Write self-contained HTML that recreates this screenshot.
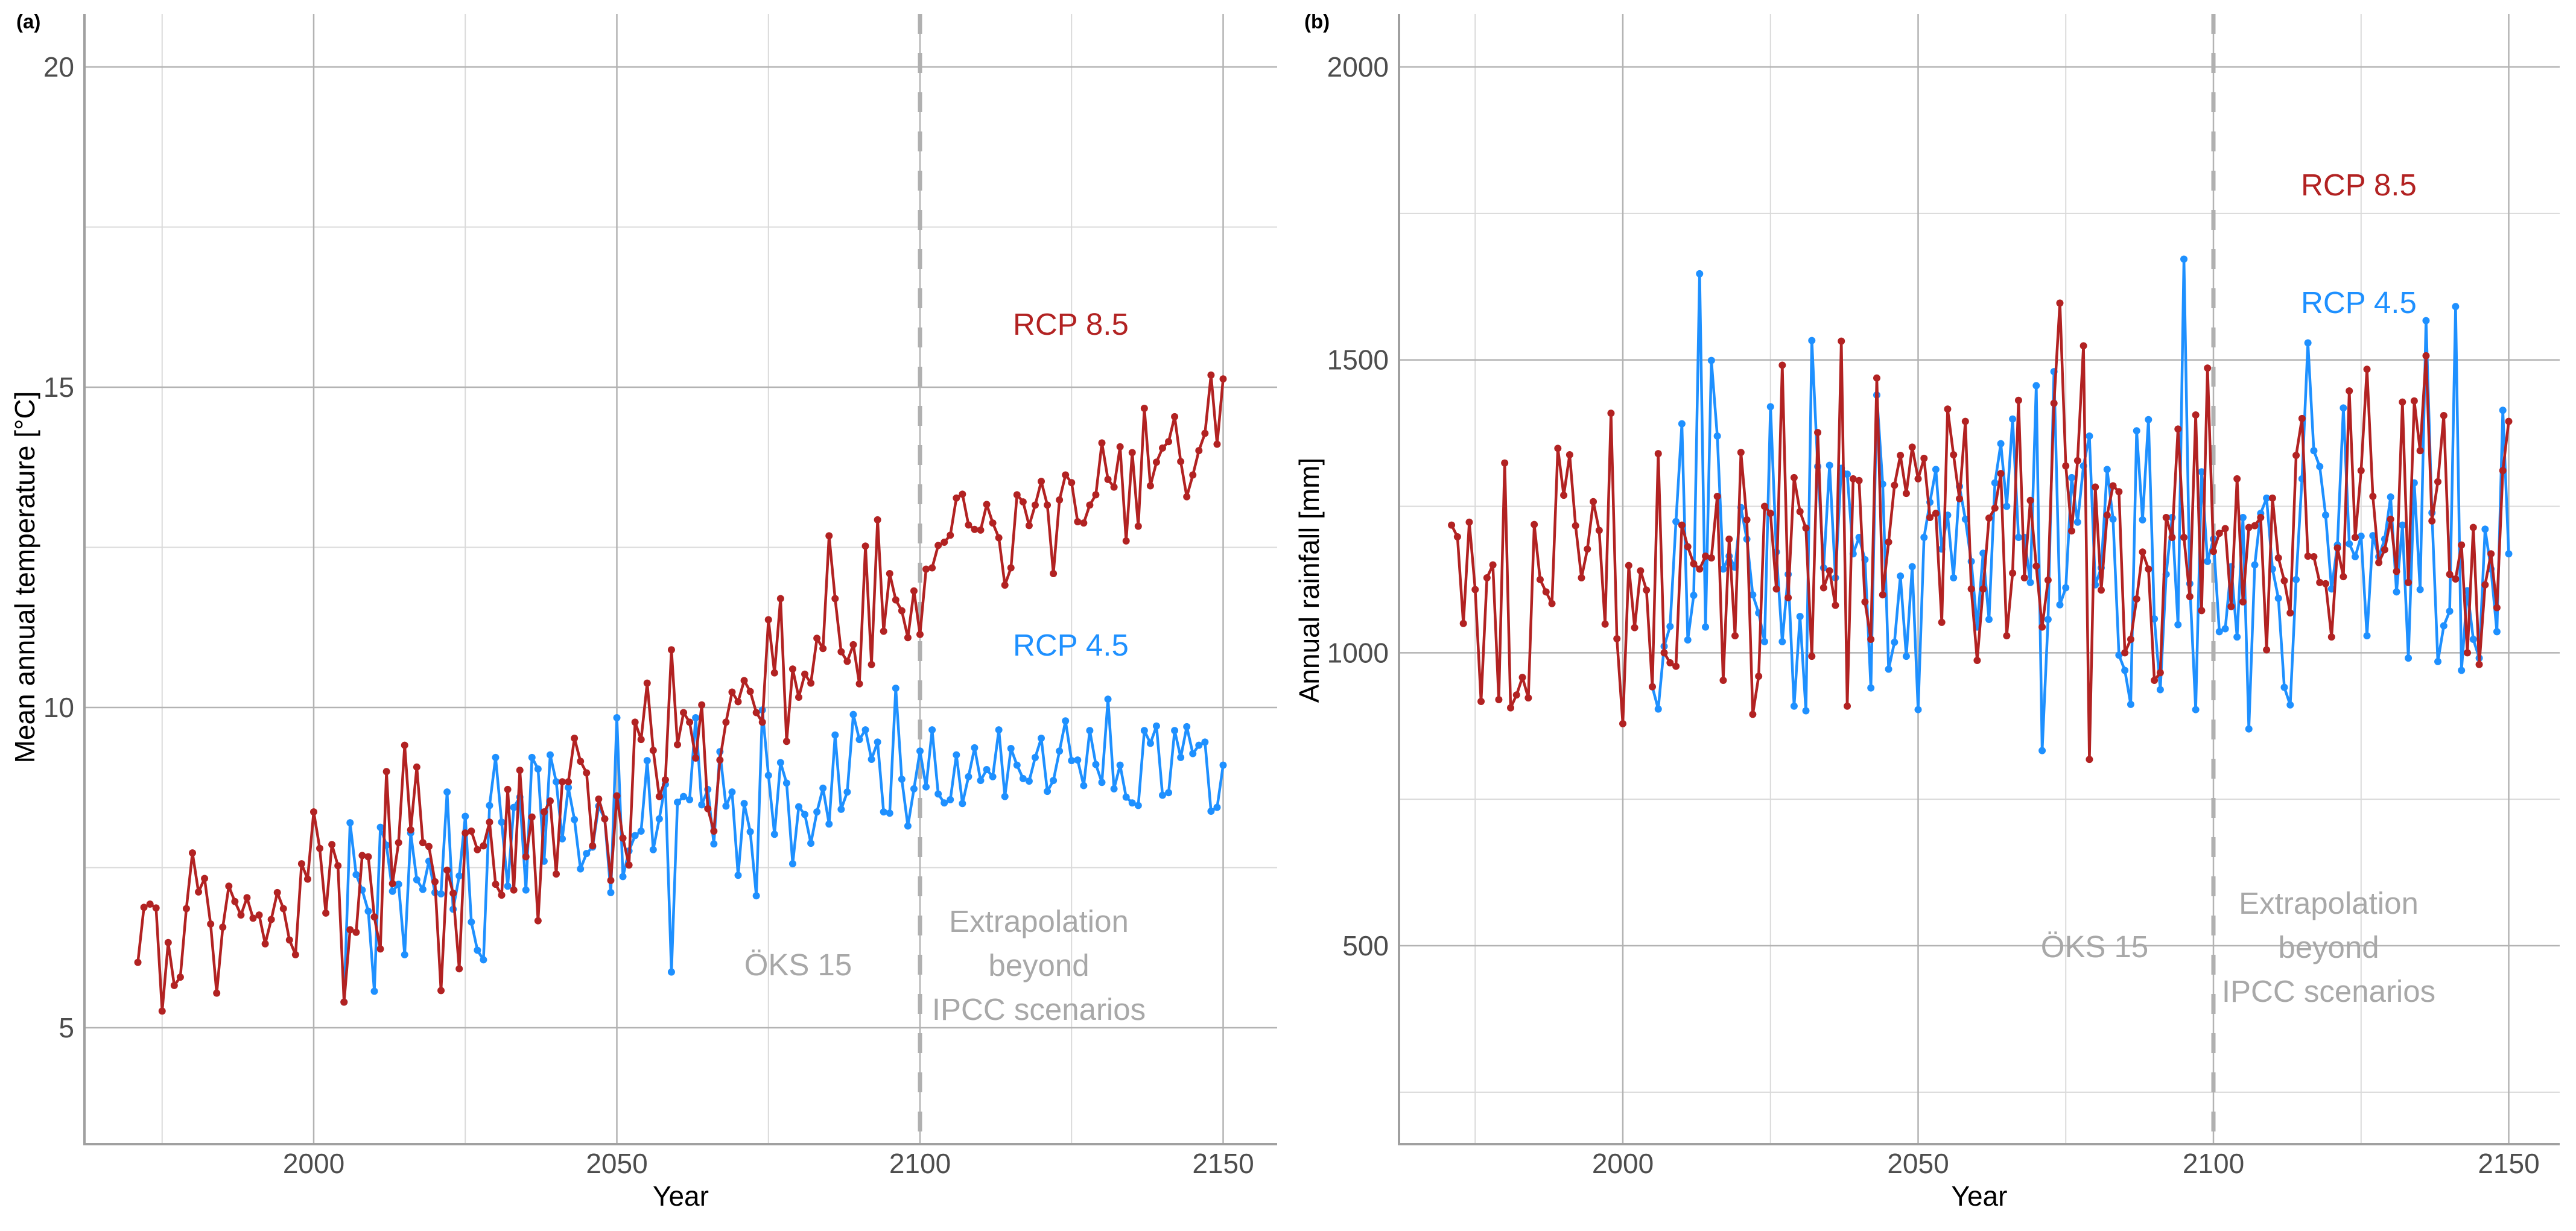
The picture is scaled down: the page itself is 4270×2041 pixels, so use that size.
<!DOCTYPE html>
<html><head><meta charset="utf-8"><style>
html,body{margin:0;padding:0;background:#fff;}
svg{display:block;font-family:"Liberation Sans",Arial,sans-serif;}
</style></head><body>
<svg id="fig" width="4270" height="2041" viewBox="0 0 4270 2041" xmlns="http://www.w3.org/2000/svg">
<g id="pa"></g>
<g id="pb"></g>
</svg>
<script>
const yearsStart = 1971;
const blueStart = 2005;
const tempRcp85 = [6.02,6.88,6.93,6.87,5.26,6.33,5.66,5.79,6.86,7.73,
7.12,7.33,6.62,5.54,6.57,7.21,6.97,6.76,7.03,6.71,
6.76,6.31,6.69,7.11,6.86,6.37,6.14,7.56,7.32,8.37,
7.80,6.79,7.86,7.53,5.40,6.53,6.49,7.69,7.67,6.73,
6.23,9.00,7.25,7.89,9.41,8.09,9.07,7.89,7.83,7.28,
5.58,7.46,7.10,5.92,8.04,8.07,7.78,7.84,8.21,7.24,
7.07,8.72,7.15,9.02,7.67,8.29,6.67,8.37,8.54,7.40,
8.84,8.84,9.52,9.16,8.98,7.84,8.57,8.26,7.30,8.62,
7.96,7.54,9.77,9.50,10.38,9.33,8.61,8.87,10.90,9.42,
9.92,9.77,9.21,10.04,8.42,8.07,9.18,9.77,10.24,10.09,
10.42,10.25,9.92,9.77,11.37,10.54,11.70,9.47,10.60,10.16,
10.52,10.38,11.08,10.92,12.68,11.70,10.87,10.72,10.98,10.37,
12.52,10.67,12.93,11.19,12.09,11.68,11.51,11.09,11.82,11.14,
12.16,12.18,12.53,12.58,12.69,13.27,13.33,12.85,12.78,12.77,
13.17,12.88,12.65,11.91,12.18,13.32,13.21,12.84,13.16,13.53,
13.16,12.09,13.24,13.63,13.51,12.90,12.88,13.16,13.32,14.13,
13.56,13.44,14.07,12.60,13.98,12.83,14.67,13.46,13.83,14.05,
14.15,14.54,13.84,13.29,13.63,14.01,14.28,15.19,14.11,15.13];
const tempRcp45 = [5.40,
8.20,7.39,7.15,6.82,5.57,
8.13,7.85,7.13,7.24,6.14,8.04,7.31,7.16,7.60,7.11,
7.09,8.68,6.85,7.37,8.30,6.65,6.21,6.06,8.47,9.22,
8.21,7.21,8.44,8.60,7.15,9.22,9.04,7.60,9.26,8.84,
7.95,8.75,8.25,7.48,7.72,7.82,8.46,8.26,7.11,9.84,
7.36,7.76,8.00,8.07,9.17,7.78,8.26,8.80,5.87,8.52,
8.61,8.56,9.84,8.48,8.72,7.87,9.31,8.46,8.68,7.38,
8.50,8.06,7.06,9.96,8.94,8.02,9.14,8.82,7.56,8.45,
8.33,7.88,8.37,8.74,8.18,9.57,8.41,8.68,9.89,9.50,
9.65,9.19,9.46,8.37,8.35,10.30,8.88,8.15,8.73,9.32,
8.76,9.65,8.65,8.51,8.56,9.26,8.50,8.92,9.37,8.86,
9.03,8.92,9.65,8.61,9.36,9.10,8.89,8.85,9.22,9.52,
8.69,8.86,9.32,9.79,9.17,9.18,8.78,9.64,9.11,8.83,
10.13,8.73,9.10,8.60,8.51,8.47,9.64,9.44,9.71,8.63,
8.67,9.64,9.22,9.70,9.28,9.41,9.46,8.38,8.44,9.10];
const rainRcp85 = [1218,1198,1050,1223,1108,917,1128,1150,920,1324,
906,928,958,923,1219,1125,1104,1084,1349,1269,
1338,1217,1128,1177,1258,1209,1049,1409,1024,879,
1149,1043,1140,1107,942,1340,1000,983,977,1218,
1181,1152,1143,1165,1162,1267,953,1194,1029,1342,
1227,895,960,1250,1238,1109,1491,1094,1299,1241,
1213,994,1376,1111,1140,1081,1532,909,1297,1294,
1087,1023,1469,1099,1189,1286,1337,1272,1351,1297,
1332,1231,1238,1052,1416,1338,1263,1395,1109,987,
1109,1230,1247,1306,1029,1136,1431,1128,1260,1148,
1044,1124,1426,1597,1319,1208,1328,1524,818,1283,
1107,1235,1285,1275,1000,1023,1092,1172,1143,953,
966,1231,1197,1382,1197,1096,1406,1072,1486,1173,
1204,1212,1079,1297,1087,1214,1217,1231,1005,1264,
1162,1123,1068,1337,1400,1165,1164,1120,1118,1027,
1179,1130,1447,1197,1311,1484,1267,1154,1176,1228,
1139,1428,1120,1430,1345,1507,1225,1292,1405,1134,
1126,1184,1000,1214,980,1116,1169,1077,1311,1395];
const rainRcp45 = [942,
904,1011,1045,1224,1391,
1022,1098,1647,1044,1499,1370,1143,1165,1146,1248,
1194,1099,1068,1019,1420,1172,1019,1134,909,1062,
901,1533,1318,1145,1320,1128,1315,1305,1169,1197,
1159,940,1440,1288,972,1018,1131,994,1147,903,
1197,1257,1313,1177,1235,1128,1284,1228,1156,1044,
1170,1057,1290,1357,1250,1399,1197,1197,1120,1456,
833,1057,1480,1082,1111,1299,1223,1319,1370,1116,
1145,1313,1228,996,970,912,1379,1227,1398,1058,
937,1134,1231,1048,1672,1118,903,1309,1156,1194,
1036,1041,1147,1027,1231,870,1150,1238,1264,1143,
1093,941,911,1125,1297,1529,1345,1318,1235,1109,
1184,1418,1186,1164,1199,1029,1200,1164,1194,1266,
1104,1218,991,1290,1108,1567,1239,985,1046,1071,
1591,970,1106,1023,991,1211,1143,1036,1414,1169];
const xTicks = [2000,2050,2100,2150];
const xMinor = [1975,2025,2075,2125];
const tempTicks = [5,10,15,20];
const tempMinor = [7.5,12.5,17.5];
const rainTicks = [500,1000,1500,2000];
const rainMinor = [250,750,1250,1750];

const NS = "http://www.w3.org/2000/svg";
function mk(parent, tag, attrs, text){
  const e = document.createElementNS(NS, tag);
  for (const k in attrs) e.setAttribute(k, attrs[k]);
  if (text !== undefined) e.textContent = text;
  parent.appendChild(e);
  return e;
}
function panel(g, cfg){
  const X = y => cfg.x0 + (y - 2000) * cfg.xs;
  const Y = v => cfg.y0 - (v - cfg.v0) * cfg.ys;
  cfg.minor.forEach(v => {
    const l = mk(g,'line',{x1:cfg.left,x2:cfg.right,y1:Y(v),y2:Y(v),stroke:'#dadada','stroke-width':2});
    
    
  });
  xMinor.forEach(v => {
    const l = mk(g,'line',{x1:X(v),x2:X(v),y1:cfg.top,y2:cfg.bottom,stroke:'#dadada','stroke-width':2});
    
    
  });
  cfg.ticks.forEach(v => {
    const l = mk(g,'line',{x1:cfg.left,x2:cfg.right,y1:Y(v),y2:Y(v),stroke:'#b3b3b3','stroke-width':2.5});
    
    
    const t = mk(g,'text',{x:cfg.left-17,y:Y(v)+16,'text-anchor':'end','font-size':46,fill:'#4d4d4d'}, String(v));
    
    
  });
  xTicks.forEach(v => {
    const l = mk(g,'line',{x1:X(v),x2:X(v),y1:cfg.top,y2:cfg.bottom,stroke:'#b3b3b3','stroke-width':2.5});
    
    
    const t = mk(g,'text',{x:X(v),y:cfg.bottom+48,'text-anchor':'middle','font-size':46,fill:'#4d4d4d'}, String(v));
    
    
  });
  const d = mk(g,'line',{x1:X(2100),x2:X(2100),y1:cfg.top,y2:cfg.bottom,stroke:'#b0b0b0','stroke-width':7,'stroke-dasharray':'33 32'});
  
  
  const ax = mk(g,'path',{d:`M${cfg.left} ${cfg.top} V${cfg.bottom} H${cfg.right}`,stroke:'#a0a0a0','stroke-width':4,fill:'none'});
  
  
  function series(vals, start, color, name){
    const sg = mk(g,'g',{});
    
    
    const pts = vals.map((v,i)=>`${X(start+i).toFixed(1)},${Y(v).toFixed(1)}`).join(' ');
    const pl = mk(sg,'polyline',{points:pts,fill:'none',stroke:color,'stroke-width':4.5,'stroke-linejoin':'round'});
    
    
    vals.forEach((v,i)=>{
      const c = mk(sg,'circle',{cx:X(start+i),cy:Y(v),r:6,fill:color});
      
      
    });
  }
  series(cfg.blue, blueStart, '#1e90ff', 'rcp45-series');
  series(cfg.red, yearsStart, '#b22222', 'rcp85-series');
  const pl = mk(g,'text',{x:cfg.tagX,y:47,'font-size':33,'font-weight':'bold',fill:'#000'}, cfg.tag);
  
  
  const yt = mk(g,'text',{x:0,y:0,'font-size':46,fill:'#000','text-anchor':'middle',transform:`translate(${cfg.ytX},${cfg.ytY}) rotate(-90)`}, cfg.ytitle);
  
  
  const xt = mk(g,'text',{x:(cfg.left+cfg.right)/2,y:cfg.bottom+102,'font-size':46,fill:'#000','text-anchor':'middle'}, 'Year');
  
  
  const r8 = mk(g,'text',{x:cfg.rcpX,y:cfg.r85Y,'font-size':51,fill:'#b22222'}, 'RCP 8.5');
  
  
  const r4 = mk(g,'text',{x:cfg.rcpX,y:cfg.r45Y,'font-size':51,fill:'#1e90ff'}, 'RCP 4.5');
  
  
  const ok = mk(g,'text',{x:cfg.oksX,y:cfg.oksY,'font-size':51,fill:'#a8a8a8','text-anchor':'middle'}, 'ÖKS 15');
  
  
  cfg.extra.forEach((s,i)=>{
    const t = mk(g,'text',{x:cfg.exX,y:cfg.exY+i*cfg.exDy,'font-size':51,fill:'#a8a8a8','text-anchor':'middle'}, s);
    
    
  });
}
const extraLines = ['Extrapolation','beyond','IPCC scenarios'];
panel(document.getElementById('pa'),{
  x0:520, xs:10.05, y0:1704, v0:5, ys:106.2,
  left:140, right:2117, top:23, bottom:1897,
  ticks:tempTicks, minor:tempMinor, red:tempRcp85, blue:tempRcp45,
  tag:'(a)', tagX:27, ytitle:'Mean annual temperature [°C]', ytX:57, ytY:957,
  rcpX:1679, r85Y:555, r45Y:1087, oksX:1323, oksY:1617,
  extra:extraLines, exX:1722, exY:1545, exDy:73
});
panel(document.getElementById('pb'),{
  x0:2690, xs:9.79, y0:1568, v0:500, ys:0.9713,
  left:2319, right:4243, top:23, bottom:1897,
  ticks:rainTicks, minor:rainMinor, red:rainRcp85, blue:rainRcp45,
  tag:'(b)', tagX:2162, ytitle:'Annual rainfall [mm]', ytX:2186, ytY:962,
  rcpX:3814, r85Y:324, r45Y:519, oksX:3472, oksY:1587,
  extra:extraLines, exX:3860, exY:1515, exDy:73
});
</script>
</body></html>
